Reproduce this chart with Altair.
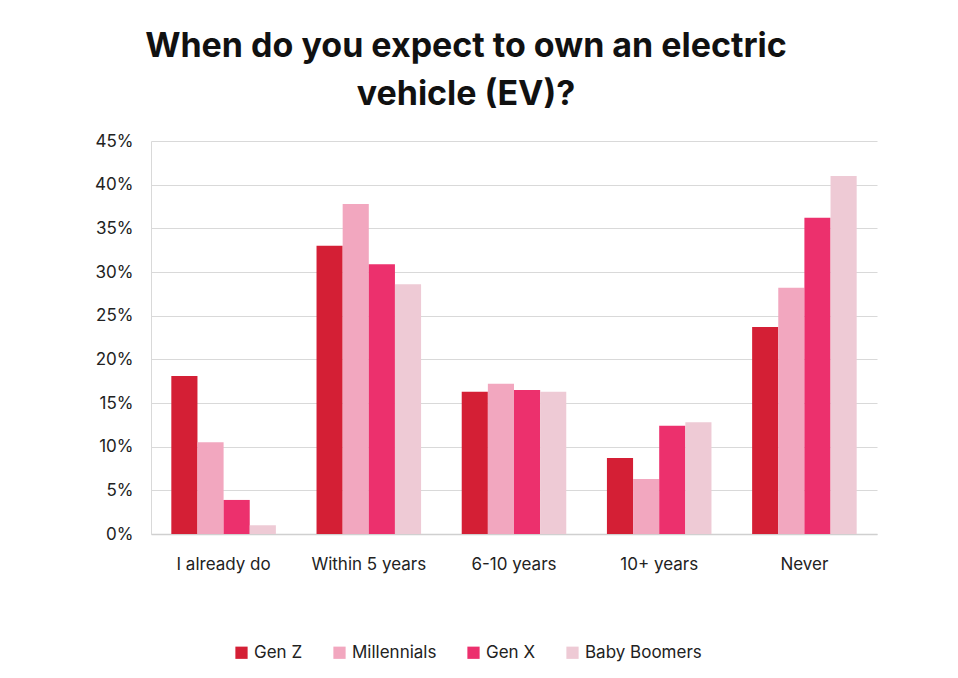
import altair as alt
import pandas as pd

categories = ["I already do", "Within 5 years", "6-10 years", "10+ years", "Never"]
generations = ["Gen Z", "Millennials", "Gen X", "Baby Boomers"]
gen_z = [18.1, 33.0, 16.3, 8.7, 23.7]
millennials = [10.5, 37.8, 17.2, 6.3, 28.2]
gen_x = [3.9, 30.9, 16.5, 12.4, 36.2]
baby_boomers = [1.0, 28.6, 16.3, 12.8, 41.0]
colors = ["#d41f35", "#f2a7bf", "#ec306d", "#eecad5"]

rows = []
for g, vals in zip(generations, [gen_z, millennials, gen_x, baby_boomers]):
    for c, v in zip(categories, vals):
        rows.append({"category": c, "generation": g, "value": v / 100})
df = pd.DataFrame(rows)

FONT = "Inter"

chart = alt.Chart(df).mark_bar().encode(
    x=alt.X("category:N", sort=categories, title=None,
            scale=alt.Scale(paddingInner=0.28, paddingOuter=0.14),
            axis=alt.Axis(labelAngle=0, labelFontSize=17, labelColor="#222222",
                          labelFont=FONT, labelPadding=22, ticks=False,
                          domainColor="#d0d0d0", domainWidth=1.5)),
    xOffset=alt.XOffset("generation:N", sort=generations,
                        scale=alt.Scale(paddingInner=0, paddingOuter=0)),
    y=alt.Y("value:Q", title=None,
            scale=alt.Scale(domain=[0, 0.45], nice=False),
            axis=alt.Axis(format=".0%", values=[i * 0.05 for i in range(10)],
                          labelFontSize=17, labelColor="#222222", labelFont=FONT,
                          labelPadding=18, ticks=False, domain=True,
                          domainColor="#d9d9d9", gridColor="#d9d9d9", gridWidth=1.2)),
    color=alt.Color("generation:N", sort=generations,
                    scale=alt.Scale(domain=generations, range=colors),
                    legend=alt.Legend(title=None, orient="none", direction="horizontal",
                                      legendX=82, legendY=503, symbolType="square",
                                      symbolSize=150, symbolStrokeWidth=0,
                                      labelFontSize=17, labelFont=FONT,
                                      labelColor="#222222", columnPadding=28,
                                      labelOffset=4)),
).properties(
    width=726,
    height=393,
    autosize=alt.AutoSizeParams(type="none"),
    padding={"left": 143, "top": 133, "right": 73, "bottom": 130},
    title=alt.TitleParams(
        text=["When do you expect to own an electric", "vehicle (EV)?"],
        fontSize=34, font=FONT, fontWeight="bold", color="#111111",
        anchor="middle", frame="group", dx=-48, lineHeight=48, offset=20,
    ),
).configure_view(stroke=None).configure_axisX(grid=False)

chart.save("out.html", embed_options={"renderer": "svg", "actions": False})
